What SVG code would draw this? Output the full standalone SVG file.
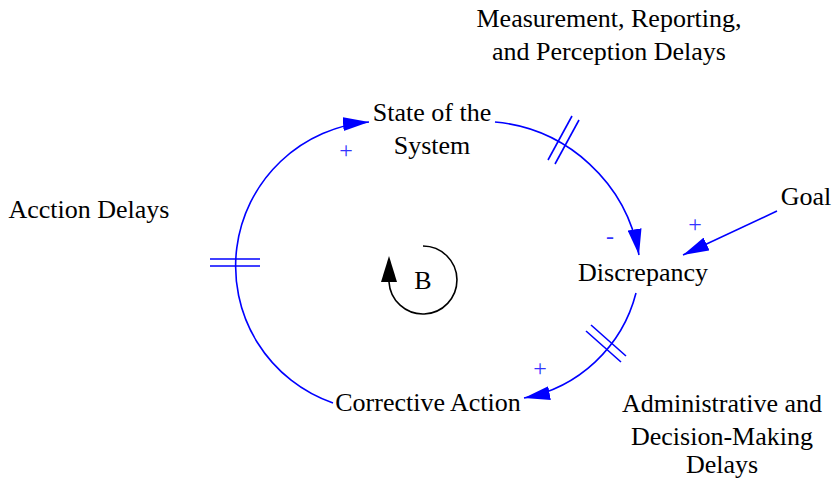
<svg xmlns="http://www.w3.org/2000/svg" width="834" height="478" viewBox="0 0 834 478">
<defs>
<marker id="ah" viewBox="0 0 26 14" refX="26" refY="7" markerWidth="26" markerHeight="14" markerUnits="userSpaceOnUse" orient="auto">
<path d="M0,0 L26,7 L0,14 z" fill="#0000ff"/>
</marker>
</defs>
<rect width="834" height="478" fill="#fff"/>
<g id="connectors" fill="none" stroke="#0000ff" stroke-width="1.6">
<path d="M333,403 A144.7,144.7 0 0 1 369,122" marker-end="url(#ah)"/>
<line x1="210" y1="259" x2="260" y2="259"/>
<line x1="210" y1="266" x2="260" y2="266"/>
<path d="M495,122 A161,161 0 0 1 639,255" marker-end="url(#ah)"/>
<line x1="548" y1="160" x2="572" y2="116"/>
<line x1="555" y1="164" x2="579" y2="120"/>
<line x1="777" y1="211" x2="683" y2="255" marker-end="url(#ah)"/>
<path d="M636,293 A143,143 0 0 1 524,398" marker-end="url(#ah)"/>
<line x1="586" y1="331" x2="621" y2="362"/>
<line x1="591" y1="325" x2="626" y2="356"/>
</g>
<g id="polarities">
<text x="346" y="158" font-family="Liberation Serif" font-size="24" fill="#3333ff" text-anchor="middle">+</text>
<text x="610" y="244" font-family="Liberation Serif" font-size="24" fill="#3333ff" text-anchor="middle">-</text>
<text x="695" y="232" font-family="Liberation Serif" font-size="24" fill="#3333ff" text-anchor="middle">+</text>
<text x="540" y="376" font-family="Liberation Serif" font-size="24" fill="#3333ff" text-anchor="middle">+</text>
</g>
<g id="loopB">
<path d="M423,246 A34,34 0 1 1 389,282" fill="none" stroke="#000" stroke-width="1.6"/>
<polygon points="389,256 381,282 397,282" fill="#000"/>
<text x="423" y="289" font-family="Liberation Serif" font-size="26" text-anchor="middle">B</text>
</g>
<g id="state"><text x="432" y="121" font-family="Liberation Serif" font-size="26" text-anchor="middle">State of the</text><text x="432" y="154" font-family="Liberation Serif" font-size="26" text-anchor="middle">System</text></g>
<g id="discrepancy"><text x="643" y="281" font-family="Liberation Serif" font-size="26" text-anchor="middle">Discrepancy</text></g>
<g id="goal"><text x="806" y="205" font-family="Liberation Serif" font-size="26" text-anchor="middle">Goal</text></g>
<g id="corrective"><text x="428" y="411" font-family="Liberation Serif" font-size="26" text-anchor="middle">Corrective Action</text></g>
<g id="measurement"><text x="609" y="27" font-family="Liberation Serif" font-size="26" text-anchor="middle">Measurement, Reporting,</text><text x="609" y="60" font-family="Liberation Serif" font-size="26" text-anchor="middle">and Perception Delays</text></g>
<g id="action"><text x="89" y="218" font-family="Liberation Serif" font-size="26" text-anchor="middle">Acction Delays</text></g>
<g id="admin"><text x="722" y="412" font-family="Liberation Serif" font-size="26" text-anchor="middle">Administrative and</text><text x="722" y="445" font-family="Liberation Serif" font-size="26" text-anchor="middle">Decision-Making</text><text x="722" y="473" font-family="Liberation Serif" font-size="26" text-anchor="middle">Delays</text></g>
</svg>
